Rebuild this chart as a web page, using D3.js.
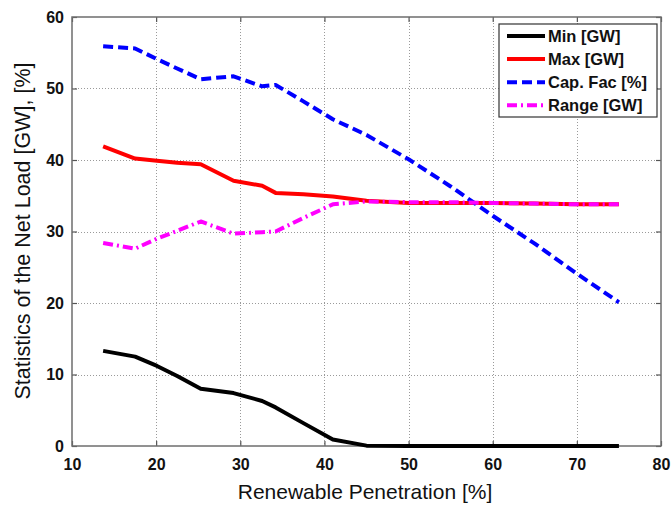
<!DOCTYPE html>
<html>
<head>
<meta charset="utf-8">
<script src="https://cdn.jsdelivr.net/npm/d3@7/dist/d3.min.js"></script>
<style>
  html, body { margin: 0; padding: 0; background: #fff; }
  svg { display: block; font-family: Arial, "Liberation Sans", sans-serif; }
</style>
</head>
<body>
<svg id="chart" width="672" height="506"></svg>
<script>
// Renewable penetration levels [%]
const penetration = [13.7, 17.5, 20.1, 22.5, 25.3, 29.2, 32.6, 34.2, 37.5, 41.0, 45.0, 50.0, 55.0, 60.0, 65.0, 70.0, 75.0];

// Net load statistics at each penetration level
const minGW    = [13.3, 12.5, 11.2, 9.8, 8.0, 7.4, 6.3, 5.4, 3.2, 0.9, 0.05, 0, 0, 0, 0, 0, 0];
const maxGW    = [41.9, 40.2, 39.9, 39.6, 39.4, 37.1, 36.4, 35.4, 35.2, 34.9, 34.3, 34.0, 34.0, 34.0, 33.9, 33.8, 33.8];
const capFac   = [55.9, 55.6, 54.1, 52.8, 51.3, 51.7, 50.3, 50.5, 48.2, 45.7, 43.5, 40.1, 36.3, 32.2, 28.3, 24.1, 20.1];
const rangeGW  = [28.4, 27.6, 29.0, 30.1, 31.4, 29.7, 29.9, 30.0, 31.9, 33.8, 34.2, 34.1, 34.1, 34.0, 33.9, 33.8, 33.8];

const seriesNames = ["Min [GW]", "Max [GW]", "Cap. Fac [%]", "Range [GW]"];
const seriesData  = [minGW, maxGW, capFac, rangeGW];
const seriesColor = ["#000000", "#ff0000", "#0000ff", "#ff00ff"];
const seriesDash  = [null, null, "10,5", "10,4,2,4"];

const xTicks = [10, 20, 30, 40, 50, 60, 70, 80];
const yTicks = [0, 10, 20, 30, 40, 50, 60];

const svg = d3.select("#chart");
const plot = { left: 72, right: 661, top: 17, bottom: 446 };

const x = d3.scaleLinear().domain([10, 80]).range([plot.left, plot.right]);
const y = d3.scaleLinear().domain([0, 60]).range([plot.bottom, plot.top]);

// dotted grid
const grid = svg.append("g").attr("stroke", "#9a9a9a").attr("stroke-width", 1)
  .attr("stroke-dasharray", "1,2");
grid.selectAll(".gx").data(xTicks.slice(1, -1)).join("line")
  .attr("x1", d => Math.round(x(d)) + 0.5).attr("x2", d => Math.round(x(d)) + 0.5)
  .attr("y1", plot.top).attr("y2", plot.bottom);
grid.selectAll(".gy").data(yTicks.slice(1, -1)).join("line")
  .attr("y1", d => Math.round(y(d)) + 0.5).attr("y2", d => Math.round(y(d)) + 0.5)
  .attr("x1", plot.left).attr("x2", plot.right);

// axes with inward ticks on all four sides
const tickFont = g => g.selectAll("text")
  .attr("font-size", 16).attr("font-weight", "bold").attr("fill", "#111")
  .attr("font-family", "Arial, 'Liberation Sans', sans-serif");
const axisStyle = g => {
  g.select(".domain").remove();
  g.selectAll(".tick line").attr("stroke", "#555").attr("stroke-width", 1.2);
};

svg.append("g").attr("transform", `translate(0,${plot.bottom})`)
  .call(d3.axisBottom(x).tickValues(xTicks).tickSizeInner(-5).tickSizeOuter(0).tickPadding(13))
  .call(axisStyle).call(tickFont);
svg.append("g").attr("transform", `translate(0,${plot.top})`)
  .call(d3.axisTop(x).tickValues(xTicks).tickSizeInner(-5).tickSizeOuter(0).tickFormat(""))
  .call(axisStyle);
svg.append("g").attr("transform", `translate(${plot.left},0)`)
  .call(d3.axisLeft(y).tickValues(yTicks).tickSizeInner(-5).tickSizeOuter(0).tickPadding(8))
  .call(axisStyle).call(tickFont);
svg.append("g").attr("transform", `translate(${plot.right},0)`)
  .call(d3.axisRight(y).tickValues(yTicks).tickSizeInner(-5).tickSizeOuter(0).tickFormat(""))
  .call(axisStyle);

// frame
svg.append("rect")
  .attr("x", plot.left).attr("y", plot.top)
  .attr("width", plot.right - plot.left).attr("height", plot.bottom - plot.top)
  .attr("fill", "none").attr("stroke", "#6e6e6e").attr("stroke-width", 1.5);

// series lines
const line = d3.line().x((d, i) => x(penetration[i])).y(d => y(d));
seriesData.forEach((vals, k) => {
  svg.append("path")
    .datum(vals)
    .attr("d", line)
    .attr("fill", "none")
    .attr("stroke", seriesColor[k])
    .attr("stroke-width", 4)
    .attr("stroke-linejoin", "round")
    .attr("stroke-dasharray", seriesDash[k]);
});

// axis titles
svg.append("text")
  .attr("x", 365).attr("y", 499)
  .attr("text-anchor", "middle").attr("font-size", 21).attr("fill", "#111")
  .text("Renewable Penetration [%]");
svg.append("text")
  .attr("transform", "translate(30,231) rotate(-90)")
  .attr("text-anchor", "middle").attr("font-size", 21.5).attr("fill", "#111")
  .text("Statistics of the Net Load [GW], [%]");

// legend
const lg = svg.append("g").attr("transform", "translate(499,24)");
lg.append("rect").attr("width", 158).attr("height", 93)
  .attr("fill", "#fff").attr("stroke", "#333").attr("stroke-width", 1.2);
seriesNames.forEach((name, k) => {
  const ry = 12 + k * 23.1;
  lg.append("line")
    .attr("x1", 8).attr("x2", 46).attr("y1", ry).attr("y2", ry)
    .attr("stroke", seriesColor[k]).attr("stroke-width", 4)
    .attr("stroke-dasharray", seriesDash[k]);
  lg.append("text")
    .attr("x", 49).attr("y", ry + 6)
    .attr("font-size", 16.5).attr("font-weight", "bold").attr("fill", "#111")
    .text(name);
});
</script>
</body>
</html>
